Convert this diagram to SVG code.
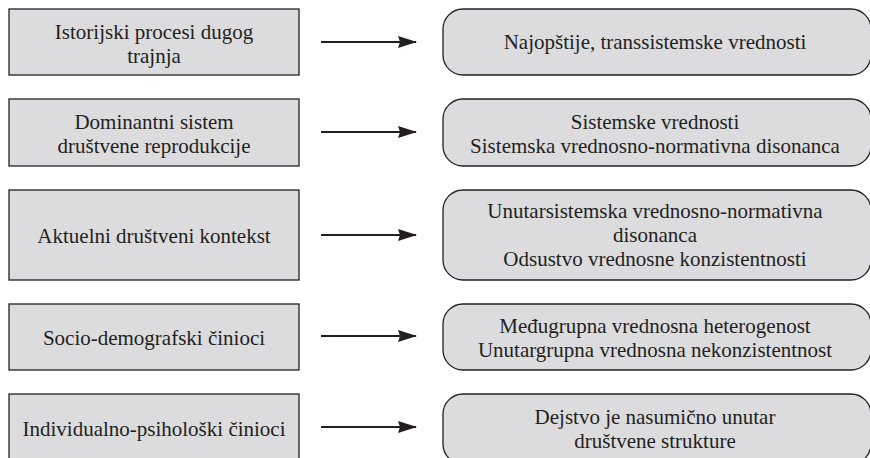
<svg xmlns="http://www.w3.org/2000/svg" width="870" height="458" viewBox="0 0 870 458">
<defs>
<style>
.box{fill:#dcdcde;stroke:#231f20;stroke-width:1.3}
.t{font-family:'Liberation Serif','DejaVu Serif',serif;font-size:21px;fill:#231f20;text-anchor:middle}
.c{stroke:#231f20;stroke-width:2;fill:none;marker-end:url(#ah)}
</style>
<marker id="ah" markerUnits="userSpaceOnUse" markerWidth="20" markerHeight="14" refX="18" refY="6" orient="auto">
<path d="M0,0 L19,6 L0,12 L2,6 Z" fill="#231f20"/>
</marker>
</defs>
<rect width="870" height="458" fill="#ffffff"/>
<g id="connectors">
<line class="c" x1="321" y1="42" x2="416" y2="42"/>
<line class="c" x1="321" y1="132" x2="416" y2="132"/>
<line class="c" x1="321" y1="235" x2="416" y2="235"/>
<line class="c" x1="321" y1="336" x2="416" y2="336"/>
<line class="c" x1="321" y1="427" x2="416" y2="427"/>
</g>
<g id="l1"><rect class="box" x="9" y="9" width="290" height="66"/><text class="t" x="154" y="39">Istorijski procesi dugog</text><text class="t" x="154" y="63">trajnja</text></g>
<g id="l2"><rect class="box" x="9" y="99" width="290" height="67"/><text class="t" x="154" y="129">Dominantni sistem</text><text class="t" x="154" y="153">društvene reprodukcije</text></g>
<g id="l3"><rect class="box" x="9" y="190" width="290" height="90"/><text class="t" x="154" y="243">Aktuelni društveni kontekst</text></g>
<g id="l4"><rect class="box" x="9" y="304" width="290" height="66"/><text class="t" x="154" y="345">Socio-demografski činioci</text></g>
<g id="l5"><rect class="box" x="9" y="394" width="290" height="70"/><text class="t" x="154" y="436">Individualno-psihološki činioci</text></g>
<g id="r1"><rect class="box" x="443" y="9" width="428" height="66" rx="20" ry="20"/><text class="t" x="655" y="49">Najopštije, transsistemske vrednosti</text></g>
<g id="r2"><rect class="box" x="443" y="99" width="428" height="67" rx="20" ry="20"/><text class="t" x="655" y="129">Sistemske vrednosti</text><text class="t" x="655" y="153">Sistemska vrednosno-normativna disonanca</text></g>
<g id="r3"><rect class="box" x="443" y="190" width="428" height="90" rx="20" ry="20"/><text class="t" x="655" y="218">Unutarsistemska vrednosno-normativna</text><text class="t" x="655" y="242">disonanca</text><text class="t" x="655" y="266">Odsustvo vrednosne konzistentnosti</text></g>
<g id="r4"><rect class="box" x="443" y="304" width="428" height="66" rx="20" ry="20"/><text class="t" x="655" y="333">Međugrupna vrednosna heterogenost</text><text class="t" x="655" y="357">Unutargrupna vrednosna nekonzistentnost</text></g>
<g id="r5"><rect class="box" x="443" y="394" width="428" height="70" rx="20" ry="20"/><text class="t" x="655" y="424">Dejstvo je nasumično unutar</text><text class="t" x="655" y="448">društvene strukture</text></g>
</svg>
